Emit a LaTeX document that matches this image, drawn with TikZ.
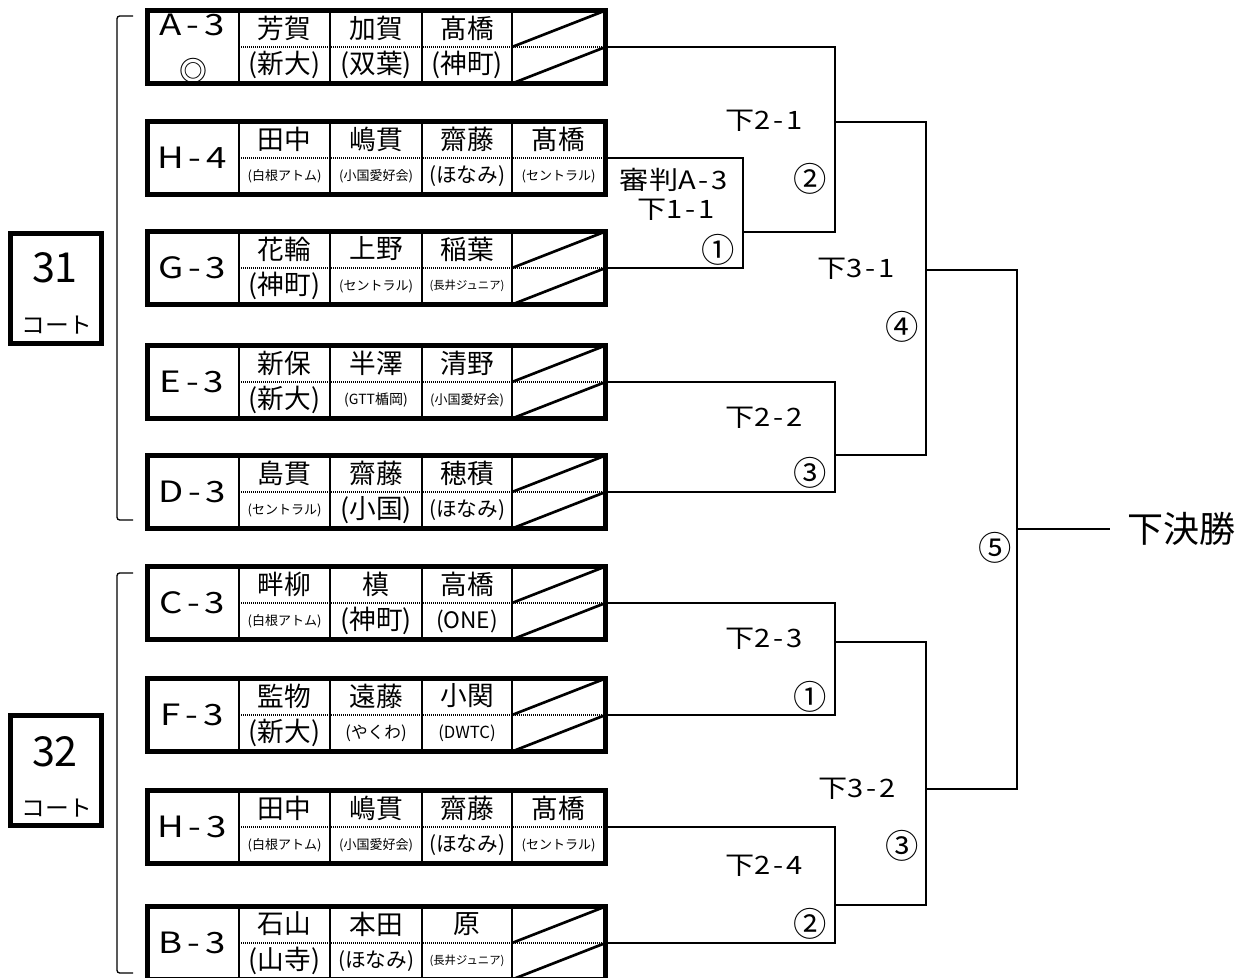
\documentclass[tikz,border=0pt]{standalone}
\usepackage{graphicx}
\usepackage{fontspec}
\setmainfont{Noto Sans CJK JP}
\newcommand\fs[1]{\fontsize{#1}{#1}\selectfont}
\newcommand\hy{\kern0.1em-\kern0.1em}
\newcommand\hyl{\kern0.13em-\kern0.13em}
\newcommand\wlab[1]{\scalebox{1.25}[1]{#1}}
\newcommand\wrnd[1]{\scalebox{1.15}[1]{#1}}
\newcommand\sB{\fs{20}}
\newcommand\sM{\fs{15.5}}
\newcommand\sN{\fs{12.5}}
\newcommand\sS{\fs{9.75}}
\newcommand\sT{\fs{8.5}}
\tikzset{
  frame/.style={line width=3.75pt},
  divider/.style={line width=1.4pt},
  dots/.style={line width=1.4pt,dash pattern=on 0.75pt off 0.75pt},
  diag/.style={line width=2pt},
  link/.style={line width=1.6pt},
  brk/.style={line width=1pt,rounded corners=2pt},
  court/.style={line width=3.75pt},
  lab/.style={inner sep=0pt,font=\fs{22}},
  nm/.style={inner sep=0pt,font=\fs{20}},
  sb/.style={inner sep=0pt},
  rl/.style={inner sep=0pt,font=\fs{19}},
  cn/.style={inner sep=0pt,font=\fs{25}},
}
% team box: id, middle y
\newcommand\teambox[2]{%
  \draw[divider] (239,#2-36.5) -- (239,#2+36.5) (330,#2-36.5) -- (330,#2+36.5)
    (422,#2-36.5) -- (422,#2+36.5) (512,#2-36.5) -- (512,#2+36.5);
  \draw[dots] (239,#2) -- (605.5,#2);
  \draw[frame] (147,#2-36.5) rectangle (605.5,#2+36.5);
  \coordinate (#1) at (605.5,#2);
}
% cell: id, column centre x, middle y, name, sub
\newcommand\cell[5]{%
  \node[nm] (#1n) at (#2,#3-19) {#4};
  \node[sb] (#1s) at (#2,#3+18) {#5};
}
\newcommand\xcell[1]{\draw[diag] (512,#1) -- (605.5,#1-36.5) (512,#1+36.5) -- (605.5,#1);}
\begin{document}
\begin{tikzpicture}[x=0.75pt,y=-0.75pt]
\useasboundingbox (0,0) rectangle (1243,978);
% court boxes
\draw[court] (10.5,233.5) rectangle (101.5,343.5);
\node[inner sep=0pt,font=\fs{31}] (c31) at (55,268) {31};
\node[inner sep=0pt,font=\fs{17}] (c31b) at (57,325) {\scalebox{1.05}[1]{コート}};
\draw[court] (10.5,715.5) rectangle (101.5,825.5);
\node[inner sep=0pt,font=\fs{31}] (c32) at (55,752) {32};
\node[inner sep=0pt,font=\fs{17}] (c32b) at (57,808) {\scalebox{1.05}[1]{コート}};
% brackets
\draw[brk] (133,16) -- (117,16) -- (117,520) -- (133,520);
\draw[brk] (133,573) -- (117,573) -- (117,973) -- (133,973);
% A-3
\teambox{A3}{47}
\node[lab] (A3L) at (192,25) {\wlab{A\hyl3}};
\node[lab,font=\fs{21}] (A3M) at (193,71) {◎};
\cell{A3a}{284.5}{47}{芳賀}{\sB(新大)}
\cell{A3b}{376}{47}{加賀}{\sB(双葉)}
\cell{A3c}{467}{47}{髙橋}{\sB(神町)}
\xcell{47}
% H-4
\teambox{H4}{158}
\node[lab] (H4L) at (192,158) {\wlab{H\hyl4}};
\cell{H4a}{284.5}{158}{田中}{\sS(白根アトム)}
\cell{H4b}{376}{158}{嶋貫}{\sS(小国愛好会)}
\cell{H4c}{467}{158}{齋藤}{\sM(ほなみ)}
\cell{H4d}{558.5}{158}{髙橋}{\sS(セントラル)}
% G-3
\teambox{G3}{268}
\node[lab] (G3L) at (192,268) {\wlab{G\hyl3}};
\cell{G3a}{284.5}{268}{花輪}{\sB(神町)}
\cell{G3b}{376}{268}{上野}{\sS(セントラル)}
\cell{G3c}{467}{268}{稲葉}{\sT(長井ジュニア)}
\xcell{268}
% E-3
\teambox{E3}{382}
\node[lab] (E3L) at (192,382) {\wlab{E\hyl3}};
\cell{E3a}{284.5}{382}{新保}{\sB(新大)}
\cell{E3b}{376}{382}{半澤}{\fs{10.5}(GTT楯岡)}
\cell{E3c}{467}{382}{清野}{\sS(小国愛好会)}
\xcell{382}
% D-3
\teambox{D3}{492}
\node[lab] (D3L) at (192,492) {\wlab{D\hyl3}};
\cell{D3a}{284.5}{492}{島貫}{\sS(セントラル)}
\cell{D3b}{376}{492}{齋藤}{\sB(小国)}
\cell{D3c}{467}{492}{穂積}{\sM(ほなみ)}
\xcell{492}
% C-3
\teambox{C3}{603}
\node[lab] (C3L) at (192,603) {\wlab{C\hyl3}};
\cell{C3a}{284.5}{603}{畔柳}{\sS(白根アトム)}
\cell{C3b}{376}{603}{槙}{\sB(神町)}
\cell{C3c}{467}{603}{高橋}{\fs{17}(ONE)}
\xcell{603}
% F-3
\teambox{F3}{715}
\node[lab] (F3L) at (192,715) {\wlab{F\hyl3}};
\cell{F3a}{284.5}{715}{監物}{\sB(新大)}
\cell{F3b}{376}{715}{遠藤}{\sN(やくわ)}
\cell{F3c}{467}{715}{小関}{\sN(DWTC)}
\xcell{715}
% H-3
\teambox{H3}{827}
\node[lab] (H3L) at (192,827) {\wlab{H\hyl3}};
\cell{H3a}{284.5}{827}{田中}{\sS(白根アトム)}
\cell{H3b}{376}{827}{嶋貫}{\sS(小国愛好会)}
\cell{H3c}{467}{827}{齋藤}{\sM(ほなみ)}
\cell{H3d}{558.5}{827}{髙橋}{\sS(セントラル)}
% B-3
\teambox{B3}{943}
\node[lab] (B3L) at (192,943) {\wlab{B\hyl3}};
\cell{B3a}{284.5}{943}{石山}{\sB(山寺)}
\cell{B3b}{376}{943}{本田}{\sM(ほなみ)}
\cell{B3c}{467}{943}{原}{\sT(長井ジュニア)}
\xcell{943}
% junction coordinates
\coordinate (m11) at (743,232);
\coordinate (m21) at (835,122);
\coordinate (m22) at (835,455);
\coordinate (m23) at (835,642);
\coordinate (m24) at (835,905);
\coordinate (m31) at (926,270);
\coordinate (m32) at (926,789);
\coordinate (fin) at (1017,529);
% connectors
\draw[link] (H4) -| (743,268) -- (G3);
\draw[link] (A3) -| (835,232) -- (m11);
\draw[link] (E3) -| (835,492) -- (D3);
\draw[link] (m21) -| (926,455) -- (m22);
\draw[link] (C3) -| (835,715) -- (F3);
\draw[link] (H3) -| (835,943) -- (B3);
\draw[link] (m23) -| (926,905) -- (m24);
\draw[link] (m31) -| (1017,789) -- (m32);
\node[inner sep=0pt,anchor=west,font=\fs{27}] (win) at (1127,529) {下決勝};
\draw[link] (fin) -- (win.west -| 1110,0);
% labels
\node[rl] (j11a) at (674,180) {\wrnd{審判A\hy3}};
\node[rl] (j11b) at (676,210) {\wrnd{下1\hy1}};
\node[cn] (j11c) at (718,250) {①};
\node[rl,anchor=east] (j21) at (803,121) {\wrnd{下2\hy1}};
\node[cn] (j21c) at (810,179) {②};
\node[rl,anchor=east] (j22) at (803,418) {\wrnd{下2\hy2}};
\node[cn] (j22c) at (810,473) {③};
\node[rl,anchor=east] (j31) at (895,269) {\wrnd{下3\hy1}};
\node[cn] (j31c) at (902,327) {④};
\node[cn] (jfc) at (995,548) {⑤};
\node[rl,anchor=east] (j23) at (803,639) {\wrnd{下2\hy3}};
\node[cn] (j23c) at (810,697) {①};
\node[rl,anchor=east] (j32) at (896,789) {\wrnd{下3\hy2}};
\node[cn] (j32c) at (902,846) {③};
\node[rl,anchor=east] (j24) at (803,866) {\wrnd{下2\hy4}};
\node[cn] (j24c) at (810,924) {②};
\end{tikzpicture}
\end{document}
